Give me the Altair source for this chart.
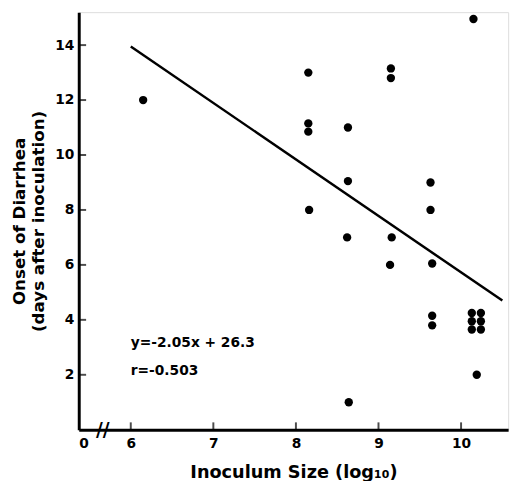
import altair as alt
import pandas as pd

# scatter data
inoculum = [6.15, 8.15, 8.15, 8.15, 8.16, 8.63, 8.63, 8.62, 8.64,
            9.15, 9.15, 9.16, 9.14, 9.63, 9.63, 9.65, 9.65, 9.65,
            10.15, 10.13, 10.24, 10.13, 10.24, 10.13, 10.24, 10.19]
onset = [12.0, 13.0, 11.15, 10.85, 8.0, 11.0, 9.05, 7.0, 1.0,
         13.15, 12.8, 7.0, 6.0, 9.0, 8.0, 6.05, 4.15, 3.8,
         14.95, 4.25, 4.25, 3.95, 3.95, 3.65, 3.65, 2.0]

fit_x = [6.0, 10.5]
fit_y = [13.95, 4.7]

x_ticks = [6, 7, 8, 9, 10]
y_ticks = [2, 4, 6, 8, 10, 12, 14]
x_min, x_max = 5.37, 10.57
y_min, y_max = 0, 15.2

notes = ["y=-2.05x + 26.3", "r=-0.503"]
note_x = [6.0, 6.0]
note_y = [3.15, 2.15]

FONT = "DejaVu Sans"
W, H = 437, 425

pts = pd.DataFrame({"x": inoculum, "y": onset})
fit = pd.DataFrame({"x": fit_x, "y": fit_y})
notes_df = pd.DataFrame({"t": notes, "x": note_x, "y": note_y})
xt = pd.DataFrame({"x": x_ticks})
yt = pd.DataFrame({"y": y_ticks})
brk = pd.DataFrame({"x": [5.66], "t": ["//"]})

xs = alt.Scale(domain=[x_min, x_max], nice=False, zero=False)
ys = alt.Scale(domain=[y_min, y_max], nice=False, zero=False)

xaxis = alt.Axis(values=[x_min] + x_ticks,
                 labelExpr="datum.value < 5.5 ? '0' : format(datum.value, 'd')",
                 ticks=False, grid=False, domainColor="black", domainWidth=3,
                 labelFont=FONT, labelFontWeight="bold", labelFontSize=14,
                 labelColor="black", labelPadding=7,
                 title="Inoculum Size (log₁₀)", titleFont=FONT,
                 titleFontWeight="bold", titleFontSize=18, titleColor="black",
                 titlePadding=14)
yaxis = alt.Axis(values=y_ticks, ticks=False, grid=False, domainColor="black",
                 domainWidth=3, labelFont=FONT, labelFontWeight="bold",
                 labelFontSize=14, labelColor="black", labelPadding=5,
                 title=["Onset of Diarrhea", "(days after inoculation)"],
                 titleFont=FONT, titleFontWeight="bold", titleFontSize=17,
                 titleColor="black", titleLineHeight=20, titlePadding=7)

points = alt.Chart(pts).mark_circle(size=72, color="black", opacity=1).encode(
    x=alt.X("x:Q", scale=xs, axis=xaxis),
    y=alt.Y("y:Q", scale=ys, axis=yaxis),
)
line = alt.Chart(fit).mark_line(color="black", strokeWidth=2.5).encode(
    x=alt.X("x:Q", scale=xs), y=alt.Y("y:Q", scale=ys))
text = alt.Chart(notes_df).mark_text(align="left", baseline="middle", font=FONT,
                                     fontWeight="bold", fontSize=14,
                                     color="black").encode(
    x=alt.X("x:Q", scale=xs), y=alt.Y("y:Q", scale=ys), text="t:N")
xtick = alt.Chart(xt).mark_tick(color="black", thickness=2, size=7,
                                orient="vertical").encode(
    x=alt.X("x:Q", scale=xs), y=alt.value(H - 4))
ytick = alt.Chart(yt).mark_tick(color="black", thickness=2, size=7,
                                orient="horizontal").encode(
    y=alt.Y("y:Q", scale=ys), x=alt.value(4))
brkmark = alt.Chart(brk).mark_text(font=FONT, fontWeight="bold", fontSize=19,
                                   color="black", baseline="middle").encode(
    x=alt.X("x:Q", scale=xs), y=alt.value(H), text="t:N")

chart = alt.layer(points, line, text, xtick, ytick, brkmark).properties(
    width=W, height=H,
    autosize=alt.AutoSizeParams(type="none"),
    padding={"left": 72, "top": 0, "right": 8, "bottom": 50},
).configure_view(stroke=None).configure(background="white")

chart.save("out.html", embed_options={"renderer": "svg", "actions": False})
